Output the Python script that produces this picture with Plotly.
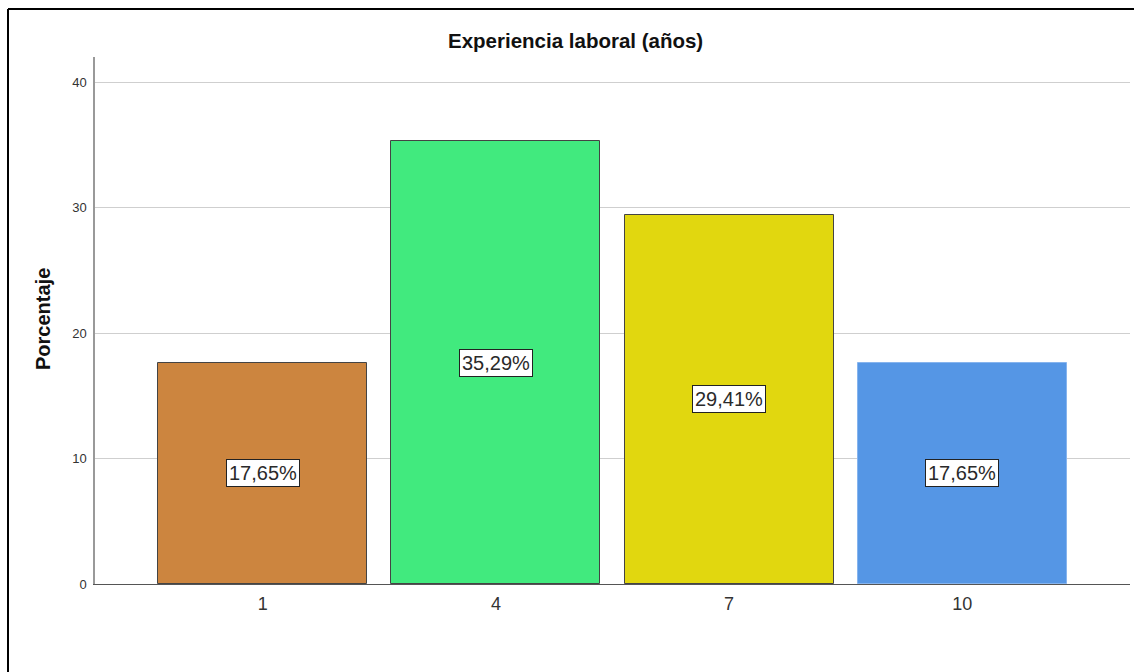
import plotly.graph_objects as go

# Data: work experience (years) vs. percentage
categorias = ["1", "4", "7", "10"]
porcentajes = [17.65, 35.29, 29.41, 17.65]
etiquetas = ["17,65%", "35,29%", "29,41%", "17,65%"]
colores = ["#CC853F", "#41EA7E", "#E1D70F", "#5596E5"]
bordes = ["#444444", "#444444", "#444444", "#86b4ee"]
ticks_y = [0, 10, 20, 30, 40]

FONT = "Liberation Sans, Arial, sans-serif"
W, H = 1134, 672
L, R, T, B = 95, 4, 57, 88
pw = W - L - R
ph = H - T - B


def px_x(p):
    return (p - L) / pw


def px_y(p):
    return (H - B - p) / ph


xpos = list(range(len(categorias)))

fig = go.Figure()
fig.add_trace(go.Bar(
    x=xpos,
    y=porcentajes,
    width=0.897,
    marker=dict(color=colores, line=dict(color=bordes, width=1)),
    hoverinfo="skip",
))

# value labels in boxes at mid-height of each bar
for xi, v, t in zip(xpos, porcentajes, etiquetas):
    fig.add_annotation(
        x=xi, y=v / 2, text=t, showarrow=False,
        font=dict(family=FONT, size=20, color="#2a2a2a"),
        bgcolor="white", bordercolor="#222222", borderwidth=1, borderpad=2,
    )

# chart title
fig.add_annotation(
    x=px_x(575), y=px_y(40), xref="paper", yref="paper",
    text="<b>Experiencia laboral (años)</b>", showarrow=False,
    font=dict(family=FONT, size=20.5, color="#111111"),
    xanchor="center", yanchor="middle",
)

# y axis title
fig.add_annotation(
    x=px_x(43), y=px_y(319), xref="paper", yref="paper",
    text="<b>Porcentaje</b>", showarrow=False, textangle=-90,
    font=dict(family=FONT, size=20, color="#111111"),
    xanchor="center", yanchor="middle",
)

# outer frame (left and top edges)
frame = dict(color="black", width=2)
fig.add_shape(type="line", xref="paper", yref="paper",
              x0=px_x(8), x1=px_x(8), y0=px_y(9), y1=px_y(H), line=frame)
fig.add_shape(type="line", xref="paper", yref="paper",
              x0=px_x(8), x1=px_x(W), y0=px_y(9), y1=px_y(9), line=frame)

fig.update_layout(
    width=W, height=H,
    margin=dict(l=L, r=R, t=T, b=B),
    paper_bgcolor="white", plot_bgcolor="white",
    showlegend=False,
    bargap=0,
    xaxis=dict(
        range=[-0.72, 3.72],
        tickmode="array", tickvals=xpos, ticktext=categorias,
        tickfont=dict(family=FONT, size=18, color="#333333"),
        showgrid=False, zeroline=False,
        showline=True, linecolor="#555555", linewidth=1.2,
        ticks="outside", ticklen=3, tickcolor="rgba(0,0,0,0)",
        fixedrange=True,
    ),
    yaxis=dict(
        range=[0, 42],
        tickmode="array", tickvals=ticks_y,
        tickfont=dict(family=FONT, size=13, color="#333333"),
        showgrid=True, gridcolor="#cfcfcf", gridwidth=1.2,
        zeroline=False,
        showline=True, linecolor="#999999", linewidth=1.5,
        ticks="outside", ticklen=4, tickcolor="rgba(0,0,0,0)",
        fixedrange=True,
    ),
)

fig.write_html("out.html")
